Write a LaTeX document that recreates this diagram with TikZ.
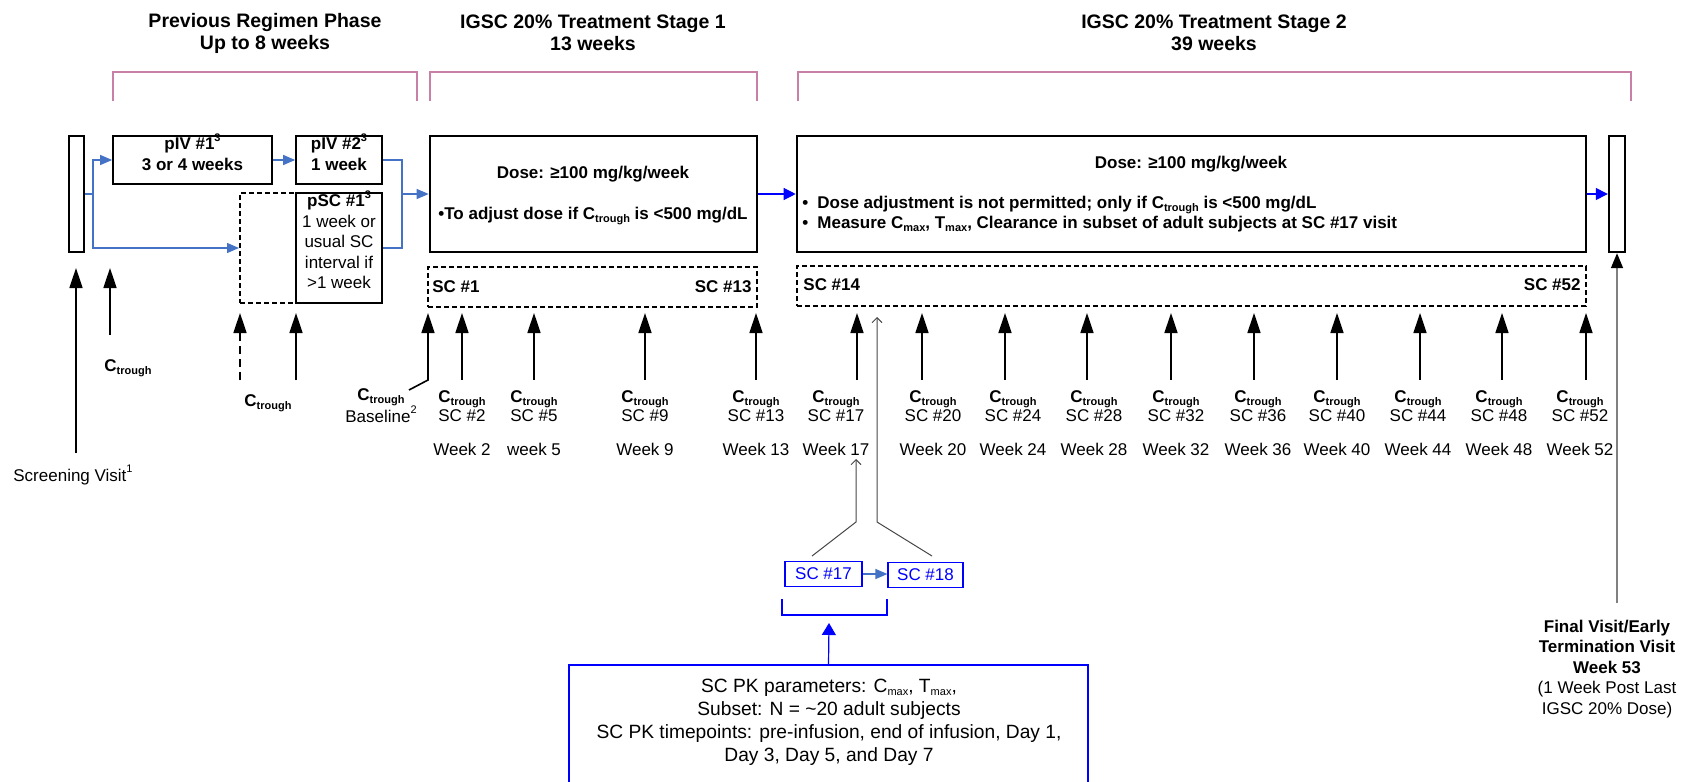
\documentclass[tikz,border=0pt]{standalone}
\usepackage{fontspec}
\setmainfont{Liberation Sans}
\usetikzlibrary{arrows.meta, positioning, fit}

\definecolor{bracketpink}{RGB}{200,128,166}
\definecolor{steelblue}{RGB}{68,114,196}
\definecolor{pkblue}{RGB}{0,0,255}
\definecolor{linegray}{RGB}{70,70,70}

\newcommand{\lowtxt}[1]{\raisebox{-0.35ex}{\fontsize{5.5}{6}\selectfont #1}}
\newcommand{\hightxt}[1]{\smash{\raisebox{0.95ex}{\fontsize{5.5}{6}\selectfont #1}}}
\newcommand{\bulletbox}{\makebox[7.5pt][l]{\textbullet}}

\tikzset{
  heading/.style={font=\fontsize{9.75}{11}\selectfont\bfseries, align=center},
  normaltxt/.style={font=\fontsize{8.5}{10.25}\selectfont, inner sep=0pt, anchor=base},
  boldtxt/.style={font=\fontsize{8.5}{10.25}\selectfont\bfseries, inner sep=0pt, anchor=base},
  bracket/.style={draw=bracketpink, line width=1pt},
  visitbox/.style={draw, line width=1.2pt, inner sep=0pt},
  mainbox/.style={draw, line width=1.3pt, inner sep=0pt},
  phasebox/.style={draw, line width=0.85pt, inner sep=0pt, align=center, font=\fontsize{8.5}{10.25}\selectfont},
  dashbox/.style={draw, line width=1pt, dash pattern=on 2.5pt off 1.5pt, inner sep=0pt},
  tick/.style={line width=0.8pt, -{Triangle[length=10pt,width=6.5pt]}},
  prevline/.style={draw=steelblue, line width=0.6pt},
  prevarrow/.style={prevline, -{Triangle[length=6pt,width=5pt]}},
  stagearrow/.style={draw=pkblue, line width=0.6pt, -{Triangle[length=6pt,width=6pt]}},
  fvarrow/.style={draw=gray, line width=0.8pt, -{Triangle[length=7.5pt,width=6pt,color=black]}},
  pkline/.style={draw=linegray, line width=0.5pt, -{Straight Barb[length=2.5pt,width=5pt]}},
  pkframe/.style={draw=pkblue, line width=0.6pt},
  pkbox/.style={pkframe, inner sep=0pt, text=pkblue, font=\fontsize{8.5}{10.25}\selectfont, minimum height=12.5pt},
  pkarrow/.style={pkframe, -{Triangle[length=6pt,width=7pt]}},
  pktext/.style={font=\fontsize{9.6}{11.5}\selectfont, align=center},
}

\begin{document}
\begin{tikzpicture}[x=0.5pt, y=-0.5pt]
\useasboundingbox (0,0) rectangle (1695,781);

% Draw phase headings and brackets
\node[heading] (headprev) at (265,33) {Previous Regimen Phase\\Up to 8 weeks};
\node[heading] (headone) at (593,33) {IGSC 20\% Treatment Stage 1\\13 weeks};
\node[heading] (headtwo) at (1214,33) {IGSC 20\% Treatment Stage 2\\39 weeks};
\draw[bracket] (113,101) |- (417,72) -- (417,101);
\draw[bracket] (430,101) |- (757,72) -- (757,101);
\draw[bracket] (798,101) |- (1631,72) -- (1631,101);

% Draw visit boxes
\node[visitbox, fit={(69,136) (84,252)}] (scr) {};
\node[visitbox, fit={(1609,136) (1625,252)}] (fv) {};

% Draw previous regimen boxes
\node[phasebox, fit={(113,136) (272,184)}] (piv1) {\bfseries pIV \#1\hightxt{3}\\\bfseries 3 or 4 weeks};
\node[phasebox, fit={(296,136) (382,184)}] (piv2) {\bfseries pIV \#2\hightxt{3}\\\bfseries 1 week};
\node[dashbox, fit={(240,193) (296,303)}] (dsh) {};
\node[phasebox, fit={(296,193) (382,303)}] (psc) {{\bfseries pSC \#1\hightxt{3}}\\1 week or\\usual SC\\interval if\\>1 week};

% Draw stage boxes
\node[mainbox, fit={(430,136) (757,252)}] (stage1) {};
\node[mainbox, fit={(797,136) (1586,252)}] (stage2) {};
\node[boldtxt] (dose1) at (593,178) {Dose: ≥100 mg/kg/week};
\node[boldtxt] (adj1) at (593,219) {\textbullet To adjust dose if C\lowtxt{trough} is <500 mg/dL};
\node[boldtxt] (dose2) at (1191,168) {Dose: ≥100 mg/kg/week};
\node[boldtxt, anchor=west, align=left] (adj2) at (802,214) {\bulletbox Dose adjustment is not permitted; only if C\lowtxt{trough} is <500 mg/dL\\\bulletbox Measure C\lowtxt{max}, T\lowtxt{max}, Clearance in subset of adult subjects at SC \#17 visit};

% Draw SC boxes
\node[dashbox, fit={(428,267) (757,307)}] (scA) {};
\node[dashbox, fit={(797,266) (1586,306)}] (scB) {};
\node[boldtxt, anchor=base west] (txtA1) at (432,292) {SC \#1};
\node[boldtxt, anchor=base east] (txtA13) at (752,292) {SC \#13};
\node[boldtxt, anchor=base west] (txtB14) at (803,290) {SC \#14};
\node[boldtxt, anchor=base east] (txtB52) at (1581,290) {SC \#52};

% Draw flow arrows
\coordinate (split) at (93,194);
\draw[prevline] (scr.east) -- (split);
\draw[prevarrow] (split) |- (piv1.west);
\draw[prevarrow] (split) |- (dsh.west);
\draw[prevarrow] (piv1) -- (piv2);
\coordinate (merge) at (402,194);
\draw[prevline] (piv2.east) -| (merge);
\draw[prevline] (psc.east) -| (merge);
\draw[prevarrow] (merge) -- (stage1.west);
\draw[stagearrow] (stage1) -- (stage2);
\draw[stagearrow] (stage2) -- (fv);

% Draw screening and previous regimen visits
\node[normaltxt] (scrlbl) at (73,481) {Screening Visit\hightxt{1}};
\coordinate (scrtail) at (76,453);
\coordinate (scrtip) at (76,268);
\draw[tick] (scrtail) -- (scrtip);

\node[boldtxt] (ctpre1) at (128,371) {C\lowtxt{trough}};
\coordinate (pretail1) at (110,335);
\coordinate (pretip1) at (110,268);
\draw[tick] (pretail1) -- (pretip1);

\node[boldtxt] (ctpre2) at (268,406) {C\lowtxt{trough}};
\coordinate (pretail2) at (240,380);
\coordinate (pretip2) at (240,313);
\draw[tick, dash pattern=on 4pt off 2.5pt] (pretail2) -- (pretip2);
\coordinate (pretail3) at (296,380);
\coordinate (pretip3) at (296,313);
\draw[tick] (pretail3) -- (pretip3);

\node[boldtxt] (ctbl) at (381,400) {C\lowtxt{trough}};
\node[normaltxt] (bl) at (381,422) {Baseline\hightxt{2}};
\coordinate (blfoot) at (409,390);
\coordinate (blbend) at (428,380);
\coordinate (bltip) at (428,313);
\draw[tick] (blfoot) -- (blbend) -- (bltip);

% Draw SC visits
\foreach \ax/\lx/\n/\wk in {462/462/2/Week 2, 534/534/5/week 5, 645/645/9/Week 9,
    756/756/13/Week 13, 857/836/17/Week 17, 922/933/20/Week 20, 1005/1013/24/Week 24,
    1087/1094/28/Week 28, 1171/1176/32/Week 32, 1254/1258/36/Week 36, 1337/1337/40/Week 40,
    1420/1418/44/Week 44, 1502/1499/48/Week 48, 1586/1580/52/Week 52} {
  \coordinate (tail\n) at (\ax,380);
  \coordinate (tip\n) at (\ax,313);
  \draw[tick] (tail\n) -- (tip\n);
  \node[boldtxt] (ct\n) at (\lx,402) {C\lowtxt{trough}};
  \node[normaltxt] (lab\n) at (\lx,421) {SC \#\n};
  \node[normaltxt] (wk\n) at (\lx,455) {\wk};
}

% Draw final visit
\node[boldtxt, anchor=center, align=center] (final) at (1607,669) {Final Visit/Early\\Termination Visit\\Week 53\\\mdseries(1 Week Post Last\\\mdseries IGSC 20\% Dose)};
\coordinate (fvtail) at (1617,603);
\draw[fvarrow] (fvtail) -- (fv.south);

% Draw PK subset detail
\node[pkbox, minimum width=38.5pt] (pk17) at (823.5,574) {SC \#17};
\node[pkbox, minimum width=37.5pt] (pk18) at (925.5,575) {SC \#18};
\draw[prevarrow] (pk17.east) -- (pk17.east -| pk18.west);
\coordinate (lk17a) at (812,556);
\coordinate (lk17b) at (856,522);
\coordinate (lk17c) at (856,459);
\draw[pkline] (lk17a) -- (lk17b) -- (lk17c);
\coordinate (lk18a) at (932,556);
\coordinate (lk18b) at (877,522);
\coordinate (lk18c) at (877,317);
\draw[pkline] (lk18a) -- (lk18b) -- (lk18c);
\draw[pkframe] (782,599) |- (887,615) -- (887,599);
\node[pkframe, inner sep=0pt, fit={(569,665) (1088,800)}] (pkbox) {};
\node[pktext] (pkinfo) at (829,722) {SC PK parameters: C\lowtxt{max}, T\lowtxt{max},\\Subset: N = \textasciitilde20 adult subjects\\SC PK timepoints: pre-infusion, end of infusion, Day 1,\\Day 3, Day 5, and Day 7};
\coordinate (brk) at (829,623);
\draw[pkarrow] (pkbox.north) -- (brk);

\end{tikzpicture}
\end{document}
